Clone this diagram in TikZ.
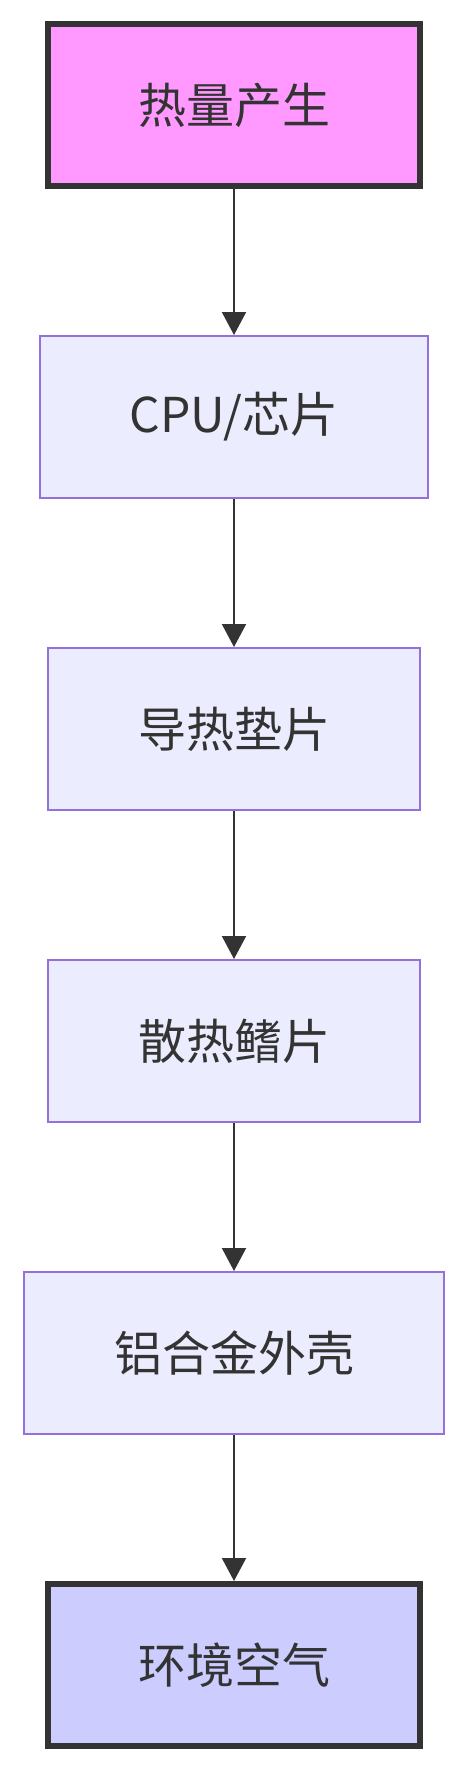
\documentclass[tikz,border=0pt]{standalone}
\usepackage{fontspec}
\setmainfont{Noto Sans CJK SC}
\usetikzlibrary{arrows.meta}
\definecolor{txt}{HTML}{333333}
\definecolor{edgec}{HTML}{333333}
\definecolor{purp}{HTML}{9370DB}
\definecolor{lav}{HTML}{ECECFF}
\definecolor{pinkf}{HTML}{FF99FF}
\definecolor{bluef}{HTML}{CCCCFF}
\tikzset{
  x=1pt, y=-1pt,
  base/.style={rectangle, text=txt, font=\fontsize{48}{56}\selectfont, minimum height=162pt, inner sep=0pt},
  normbox/.style={base, draw=purp, fill=lav, line width=2pt},
  termbox/.style={base, draw=txt, line width=6pt},
  flow/.style={draw=edgec, line width=2pt, -{Triangle[length=23pt,width=24pt]}}
}
\begin{document}
\begin{tikzpicture}
\useasboundingbox (0,0) rectangle (468,1770);
\node[termbox, fill=pinkf, minimum width=372pt] (n1) at (234,105) {热量产生};
\node[normbox, minimum width=388pt] (n2) at (234,417) {CPU/芯片};
\node[normbox, minimum width=372pt] (n3) at (234,729) {导热垫片};
\node[normbox, minimum width=372pt] (n4) at (234,1041) {散热鳍片};
\node[normbox, minimum width=420pt] (n5) at (234,1353) {铝合金外壳};
\node[termbox, fill=bluef, minimum width=372pt] (n6) at (234,1665) {环境空气};
\draw[flow] (n1) -- (n2);
\draw[flow] (n2) -- (n3);
\draw[flow] (n3) -- (n4);
\draw[flow] (n4) -- (n5);
\draw[flow] (n5) -- (n6);
\end{tikzpicture}
\end{document}
